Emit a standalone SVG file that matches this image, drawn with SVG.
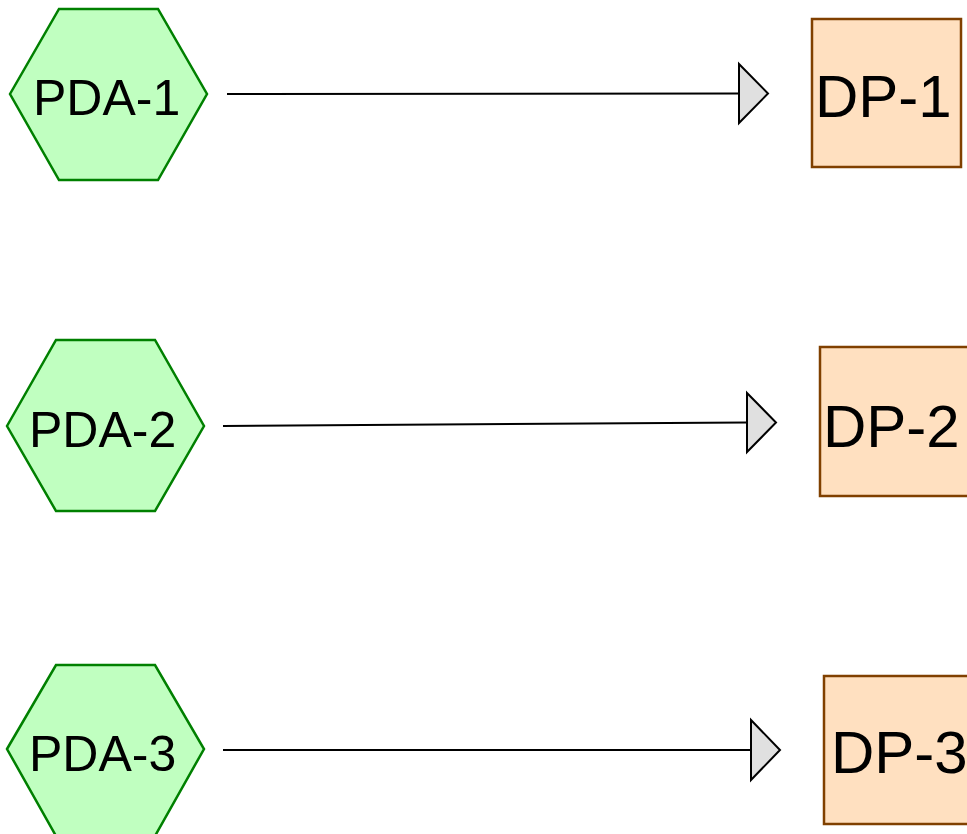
<svg xmlns="http://www.w3.org/2000/svg" width="967" height="834" viewBox="0 0 967 834">
<style>
.hex{fill:#c0ffc0;stroke:#008000;stroke-width:2.5}
.box{fill:#ffe0c0;stroke:#804000;stroke-width:2.5}
.edge{fill:none;stroke:#000;stroke-width:2}
.head{fill:#e0e0e0;stroke:#000;stroke-width:2;stroke-linejoin:miter}
.lbl{font-family:"Liberation Sans",Arial,sans-serif;fill:#000}
</style>
<rect width="967" height="834" fill="#fff"/>
<g id="PDA-1"><polygon class="hex" points="10,94 59,9 158,9 207,94 158,180 59,180"/><text class="lbl" x="33" y="115" font-size="50">PDA-1</text></g>
<g id="PDA-2"><polygon class="hex" points="7,426 56,340 155,340 204,426 155,511 56,511"/><text class="lbl" x="29" y="447" font-size="50">PDA-2</text></g>
<g id="PDA-3"><polygon class="hex" points="7,749 56,665 155,665 204,749 155,836 56,836"/><text class="lbl" x="29" y="771" font-size="50">PDA-3</text></g>
<g id="DP-1"><rect class="box" x="812" y="19" width="149" height="148"/><text class="lbl" x="815" y="117" font-size="60">DP-1</text></g>
<g id="DP-2"><rect class="box" x="820" y="347" width="149" height="149"/><text class="lbl" x="823" y="447" font-size="60">DP-2</text></g>
<g id="DP-3"><rect class="box" x="824" y="676" width="149" height="148"/><text class="lbl" x="831" y="773" font-size="60">DP-3</text></g>
<g id="connectors">
<line class="edge" x1="227" y1="94" x2="739" y2="93.5"/>
<polygon class="head" points="739,64 768,93.5 739,123"/>
<line class="edge" x1="223" y1="426" x2="747" y2="422.5"/>
<polygon class="head" points="747,393 776,422.5 747,452"/>
<line class="edge" x1="223" y1="750" x2="751" y2="750"/>
<polygon class="head" points="751,720 780,750 751,780"/>
</g>
</svg>
